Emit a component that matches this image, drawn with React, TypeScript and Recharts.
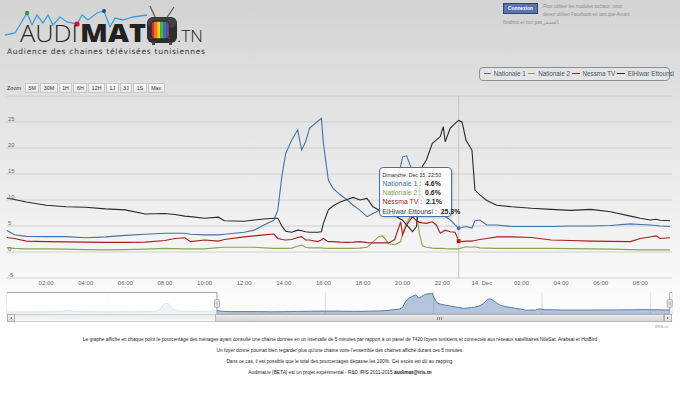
import React from 'react';
import {
  LineChart, Line, XAxis, YAxis, CartesianGrid, AreaChart, Area,
  ReferenceArea, ReferenceLine, ReferenceDot,
} from 'recharts';

const FONT = '"Liberation Sans", Arial, sans-serif';

// time in hours since 13 Dec 00:00
const hours = [0, 0.4, 1, 2, 3, 4, 5, 6, 7, 8, 8.5, 9, 9.3, 10, 10.7, 11, 12, 12.5, 13, 13.5,
  13.7, 13.9, 14.1, 14.4, 14.7, 14.9, 15.1, 15.3, 15.7, 15.9, 16.0, 16.25, 16.5, 16.85, 17.2, 17.5,
  17.85, 18.2, 18.5, 18.8, 19.0, 19.3, 19.6, 19.9, 20.0, 20.2, 20.5, 20.7, 20.85, 21.0, 21.2, 21.5,
  21.7, 21.9, 22.05, 22.15, 22.4, 22.65, 22.83, 23.0, 23.2, 23.5, 23.65, 23.9, 24.25, 24.75, 25.5,
  26.5, 27.5, 28.5, 29.5, 30.5, 31.5, 32.0, 32.5, 32.8, 33.0, 33.5];

const nationale1 = [4.2, 3.3, 3.0, 2.95, 2.95, 2.75, 2.9, 3.2, 3.4, 3.6,
  3.6, 3.6, 3.4, 3.3, 3.3, 3.4, 3.8, 4.2, 5.2, 6.1,
  8.1, 14.5, 19.0, 21.5, 23.5, 19.6, 21.2, 23.8, 25.1, 25.7,
  20.9, 13.8, 12.2, 11.0, 10.0, 9.0, 8.0, 6.8, 7.4, 8.0,
  8.4, 9.5, 12.0, 16.5, 18.3, 18.5, 15.5, 13.0, 11.5, 10.5,
  9.5, 8.5, 8.0, 7.5, 7.0, 6.8, 6.2, 5.2, 4.6, 4.7,
  4.9, 4.6, 6.0, 6.15, 5.2, 5.2, 4.9, 4.9, 4.9, 5.0,
  5.0, 5.1, 5.4, 5.3, 5.2, 5.1, 5.0, 4.9];

const nationale2 = [0.85, 0.7, 0.6, 0.6, 0.55, 0.45, 0.4, 0.45, 0.55, 0.7,
  0.65, 0.6, 0.6, 0.6, 0.85, 0.9, 0.9, 0.9, 0.8, 0.7,
  0.7, 0.7, 0.7, 0.75, 1.1, 1.35, 0.9, 0.8, 0.8, 0.8,
  0.75, 0.7, 0.7, 0.7, 0.7, 0.7, 0.75, 0.9, 1.9, 3.0,
  3.1, 1.6, 1.35, 2.0, 3.6, 5.6, 7.6, 7.8, 3.5, 1.2,
  0.9, 0.75, 0.7, 0.7, 0.7, 0.65, 0.6, 0.6, 0.6, 0.8,
  1.0, 0.9, 1.0, 0.8, 0.75, 0.7, 0.7, 0.7, 0.7, 0.65,
  0.6, 0.55, 0.45, 0.4, 0.4, 0.4, 0.4, 0.4];

const nessma = [2.8, 2.6, 2.1, 2.0, 1.95, 1.9, 1.85, 1.85, 1.9, 2.2,
  2.6, 2.75, 2.0, 2.3, 2.1, 2.4, 2.9, 3.1, 3.3, 3.45,
  2.6, 2.4, 2.3, 2.4, 2.8, 2.95, 2.3, 2.3, 2.0, 2.3,
  2.6, 2.0, 2.0, 1.9, 1.85, 1.9, 2.0, 1.8, 1.75, 1.75,
  1.75, 1.75, 2.4, 5.8, 3.3, 5.2, 6.8, 6.0, 5.7, 5.6,
  5.5, 5.8, 5.2, 3.6, 4.0, 4.2, 3.9, 3.8, 2.1, 2.0,
  2.1, 2.1, 2.2, 2.4, 2.6, 2.9, 2.9, 2.8, 2.3, 2.2,
  2.1, 2.05, 2.0, 2.6, 2.9, 3.1, 2.6, 2.75];

const elhiwar = [10.4, 10.1, 9.6, 9.0, 8.7, 8.6, 8.3, 8.1, 7.3, 7.4,
  7.2, 6.9, 6.8, 6.5, 6.7, 6.0, 5.9, 6.15, 6.35, 6.5,
  6.5, 5.0, 4.0, 3.8, 4.2, 4.1, 3.9, 3.8, 3.8, 3.9,
  5.5, 8.1, 8.9, 9.6, 10.1, 10.5, 10.0, 10.3, 8.7, 8.1,
  7.8, 7.4, 7.0, 6.3, 6.1, 5.2, 3.9, 4.9, 12.0, 16.5,
  17.7, 20.9, 21.5, 22.2, 24.1, 21.2, 23.8, 24.75, 25.3, 25.0,
  21.5, 19.6, 11.9, 11.0, 9.9, 9.0, 8.7, 8.4, 8.2, 8.0,
  8.2, 7.75, 6.9, 6.5, 6.15, 6.3, 6.1, 6.0];

// navigator: Nationale 1 on 12 Dec (hours before 13 Dec 00:00)
const navPrevHours = [-15.5, -14, -12.5, -11.4, -11.0, -10.6, -9.5, -8, -6.5, -5, -4.4, -4.2,
  -4.0, -3.8, -3.6, -3.35, -3.1, -2.8, -2, -1, -0.3];
const navPrevValues = [2.5, 2.6, 2.7, 3.2, 4.5, 3.2, 2.8, 2.7, 2.8, 3.0, 3.4, 6.0,
  10.5, 13.0, 12.6, 8.5, 4.5, 3.4, 3.1, 3.2, 3.8];

const seriesNames = ['Nationale 1', 'Nationale 2', 'Nessma TV', 'ElHiwar Ettounsi'];
const seriesKeys = ['n1', 'n2', 'ns', 'eh'];
const seriesColors = ['#4572A7', '#89A54E', '#AA1E1E', '#2a2a2a'];
const seriesValues = [nationale1, nationale2, nessma, elhiwar];

const xTicks = [2, 4, 6, 8, 10, 12, 14, 16, 18, 20, 22, 24, 26, 28, 30, 32];
const yTicks = [-5, 0, 5, 10, 15, 20, 25, 30];
const xDomain = [0, 33.6];
const yDomain = [-5, 30];
const navTicks = [-8, 0, 8, 16, 24, 32];
const navDomain = [-15.5, 33.6];
const navYDomain = [0, 26.5];
const navSelection = [0, 33.43];
const tooltipIndex = 58;
const tooltipDay = 'Dimanche, Dec 15';
const zoomButtons = ['5M', '30M', '1H', '6H', '12H', '1J', '3J', '1S', 'Max'];

const data = hours.map((h, i) => ({
  h, n1: nationale1[i], n2: nationale2[i], ns: nessma[i], eh: elhiwar[i],
}));
const navData = [
  ...navPrevHours.map((h, i) => ({ h, v: navPrevValues[i] })),
  ...hours.map((h, i) => ({ h, v: nationale1[i] })),
];

const pad = (n: number) => (n < 10 ? '0' + n : '' + n);
const fmtHour = (h: number) => {
  const d = h >= 24 ? h - 24 : h;
  const hh = Math.floor(d + 1e-6);
  const mm = Math.round((d - hh) * 60);
  return pad(hh) + ':' + pad(mm);
};
const xLabel = (h: number) => (h === 24 ? '14. Dec' : pad(((h % 24) + 24) % 24) + ':00');
const navLabel = (h: number) => {
  if (h === 0) return '13. Dec';
  if (h === 24) return '14. Dec';
  return pad(((h % 24) + 24) % 24) + ':00';
};

const YTick = (props: any) => {
  const { x, y, payload } = props;
  if (payload.value === yTicks[yTicks.length - 1]) return <g />;
  return (
    <text x={x} y={y - 1.5} fontSize={6} fill="#666" fontFamily={FONT} textAnchor="start">
      {payload.value}
    </text>
  );
};

const NavTick = (props: any) => {
  const { x, y, payload } = props;
  return (
    <text x={x + 2} y={y - 2.5} fontSize={5.5} fill="#777" fontFamily={FONT} textAnchor="start">
      {navLabel(payload.value)}
    </text>
  );
};

const SquareDot = (p: any) => (
  <rect x={p.cx - 2.2} y={p.cy - 2.2} width={4.4} height={4.4} fill={seriesColors[2]} stroke="#fff" strokeWidth={0.4} />
);
const CircleDot = (p: any) => (
  <circle cx={p.cx} cy={p.cy} r={2.3} fill={seriesColors[0]} stroke="#fff" strokeWidth={0.4} />
);
const Handle = (p: any) => (
  <g>
    <rect x={p.cx - 2.5} y={p.cy - 4} width={5} height={8} rx={1.5} fill="#ebe7e8" stroke="#999" strokeWidth={0.7} />
    <line x1={p.cx - 0.8} x2={p.cx - 0.8} y1={p.cy - 2} y2={p.cy + 2} stroke="#999" strokeWidth={0.5} />
    <line x1={p.cx + 0.8} x2={p.cx + 0.8} y1={p.cy - 2} y2={p.cy + 2} stroke="#999" strokeWidth={0.5} />
  </g>
);

function Logo() {
  const pts = '5,35 15,33 27,13 32,25 37,15 43,23 48,15 53,25 60,17 67,22 77,24 82,15 88,20 97,13 104,11 110,27 115,18 123,20 133,17 147,15';
  const stripes = ['#e3262e', '#f47a20', '#f6d21c', '#4cb548', '#2a7bc4', '#7d3f98'];
  return (
    <svg width={215} height={60} style={{ position: 'absolute', left: 0, top: 0 }}>
      <polyline points={pts} fill="none" stroke="#3aa0dc" strokeWidth={1.3} />
      <circle cx={27} cy={13} r={2.2} fill="#2a9a3a" />
      <circle cx={77} cy={24} r={2.6} fill="#d0102a" />
      <circle cx={104} cy={11} r={2} fill="#1a4a9a" />
      <text x={20} y={42} fontSize={24} fontFamily='"Open Sans", sans-serif' fontWeight={300} fill="#222" textLength={58} lengthAdjust="spacingAndGlyphs">AUDI</text>
      <text x={80} y={42} fontSize={24} fontFamily='"Open Sans", sans-serif' fontWeight={800} fill="#222" textLength={66} lengthAdjust="spacingAndGlyphs">MAT</text>
      <line x1={156} y1={19} x2={150} y2={6} stroke="#555" strokeWidth={1.2} />
      <line x1={166} y1={19} x2={174} y2={7} stroke="#555" strokeWidth={1.2} />
      <rect x={147} y={17} width={30} height={26} rx={6} fill="#2e2e2e" />
      <rect x={147.8} y={17.8} width={28.4} height={10} rx={5} fill="#555" opacity={0.5} />
      {stripes.map((c, i) => (
        <rect key={c} x={151 + i * 3.1} y={21} width={3.2} height={18} fill={c} />
      ))}
      <rect x={151} y={21} width={18.6} height={18} rx={4} fill="none" stroke="#2e2e2e" strokeWidth={1.5} />
      <rect x={152} y={42} width={3} height={3} fill="#444" />
      <rect x={169} y={42} width={3} height={3} fill="#444" />
      <text x={177} y={42} fontSize={17} fontFamily='"Open Sans", sans-serif' fontWeight={300} fill="#222" textLength={26} lengthAdjust="spacingAndGlyphs">.TN</text>
      <text x={7} y={53.5} fontSize={7.5} fontFamily='"DejaVu Sans", sans-serif' fill="#333" textLength={198} lengthAdjust="spacing">Audience des chaines télévisées tunisiennes</text>
    </svg>
  );
}

export default function App() {
  const tipH = hours[tooltipIndex];
  return (
    <div style={{
      position: 'absolute', left: 0, top: 0, width: 680, height: 400, overflow: 'hidden',
      fontFamily: FONT,
      background: 'linear-gradient(180deg, #d3d3d3 0px, #e3e3e3 110px, #efefef 210px, #fbfbfb 295px, #ffffff 330px)',
    }}>
      <Logo />

      {/* Facebook block */}
      <div style={{ position: 'absolute', left: 503, top: 3, width: 35, height: 11, background: '#5b74a8', border: '1px solid #29447e', boxSizing: 'border-box', color: '#fff', fontWeight: 'bold', fontSize: 4.8, lineHeight: '9px', textAlign: 'center' }}>Connexion</div>
      <div style={{ position: 'absolute', left: 543, top: 3, fontSize: 4.6, color: '#8a8a8a', lineHeight: '8px', whiteSpace: 'nowrap' }}>
        Pour utiliser les modules sociaux, vous<br />devez utiliser Facebook en tant que Amani
      </div>
      <div style={{ position: 'absolute', left: 503, top: 19.5, fontSize: 4.6, color: '#8a8a8a', whiteSpace: 'nowrap' }}>Ibrahimi et non pas <span>العصفر</span>.</div>

      {/* zoom buttons */}
      <div style={{ position: 'absolute', left: 7, top: 85, fontSize: 5.5, color: '#333' }}>Zoom</div>
      <div style={{ position: 'absolute', left: 25, top: 83, display: 'flex', gap: 1 }}>
        {zoomButtons.map((b) => (
          <div key={b} style={{ height: 10, padding: '0 2.5px', minWidth: 8, boxSizing: 'border-box', border: '1px solid #c8c8c8', background: 'linear-gradient(#fafafa, #e6e6e6)', fontSize: 5.3, lineHeight: '8px', color: '#333', textAlign: 'center' }}>{b}</div>
        ))}
      </div>

      {/* legend */}
      <div style={{ position: 'absolute', left: 479, top: 66.5, width: 191, height: 14, boxSizing: 'border-box', border: '1px solid #8f8f8f', borderRadius: 4, background: 'rgba(255,255,255,0.2)', display: 'flex', alignItems: 'center', paddingLeft: 3.5 }}>
        {seriesNames.map((n, i) => (
          <div key={n} style={{ display: 'flex', alignItems: 'center', marginRight: 2.2 }}>
            <div style={{ width: 7.5, height: 1.6, background: seriesColors[i], marginRight: 2.8 }} />
            <span style={{ fontSize: 6.3, color: '#3E576F', whiteSpace: 'nowrap' }}>{n}</span>
          </div>
        ))}
      </div>

      {/* main chart */}
      <div style={{ position: 'absolute', left: 0, top: 0 }}>
        <LineChart width={680} height={292} data={data} margin={{ top: 96, right: 8, left: 6.5, bottom: 0 }}>
          <CartesianGrid vertical={false} stroke="#c6c6c6" strokeWidth={0.8} />
          <XAxis dataKey="h" type="number" domain={xDomain} ticks={xTicks} interval={0} allowDataOverflow
            tickFormatter={xLabel} axisLine={false} tickLine={false} tickSize={0} tickMargin={3} height={14}
            tick={{ fontSize: 6, fill: '#666', fontFamily: FONT }} />
          <YAxis type="number" domain={yDomain} ticks={yTicks} interval={0} mirror axisLine={false} tickLine={false}
            tickSize={0} tickMargin={1.5} tick={YTick} allowDataOverflow />
          <ReferenceLine x={tipH} stroke="#c4c4c4" strokeWidth={0.9} />
          {seriesKeys.map((k, i) => (
            <Line key={k} type="linear" dataKey={k} name={seriesNames[i]} stroke={seriesColors[i]}
              strokeWidth={1.1} dot={false} activeDot={false} isAnimationActive={false} />
          ))}
          <ReferenceDot x={tipH} y={nationale1[tooltipIndex]} r={2.3} shape={CircleDot} />
          <ReferenceDot x={tipH} y={nessma[tooltipIndex]} r={2.3} shape={SquareDot} />
        </LineChart>
      </div>

      {/* tooltip */}
      <div style={{
        position: 'absolute', left: 379, top: 167, width: 73, height: 50, boxSizing: 'border-box',
        border: '1px solid #4572A7', borderRadius: 4, background: 'rgba(255,255,255,0.86)',
        boxShadow: '1px 1px 2px rgba(0,0,0,0.15)', padding: '3px 2px 0 2.5px', whiteSpace: 'nowrap',
      }}>
        <div style={{ fontSize: 5.2, color: '#333', lineHeight: '8px' }}>{tooltipDay}, {fmtHour(tipH)}</div>
        {seriesNames.map((n, i) => (
          <div key={n} style={{ fontSize: 6.9, lineHeight: '9.2px' }}>
            <span style={{ color: seriesColors[i] === '#2a2a2a' ? '#444' : seriesColors[i] }}>{n} :</span>
            <span style={{ color: '#222', fontWeight: 'bold' }}>{'\u00a0 '}{seriesValues[i][tooltipIndex].toFixed(1)}%</span>
          </div>
        ))}
      </div>

      {/* navigator */}
      <div style={{ position: 'absolute', left: 0, top: 292 }}>
        <AreaChart width={680} height={22} data={navData} margin={{ top: 0.5, right: 8, left: 7, bottom: 0 }}>
          <CartesianGrid horizontal={false} stroke="#d4d4d4" strokeWidth={0.8} />
          <XAxis dataKey="h" type="number" domain={navDomain} ticks={navTicks} interval={0} allowDataOverflow
            axisLine={false} tickLine={false} tickSize={0} tickMargin={0} height={0} tick={NavTick} />
          <YAxis hide type="number" domain={navYDomain} allowDataOverflow />
          <Area type="linear" dataKey="v" stroke="#4572A7" strokeWidth={0.9} fill="#4572A7" fillOpacity={0.4}
            dot={false} activeDot={false} isAnimationActive={false} />
          <ReferenceArea x1={navDomain[0]} x2={navSelection[0]} y1={navYDomain[0]} y2={navYDomain[1]} fill="#fff" fillOpacity={0.78} stroke="none" />
          <ReferenceArea x1={navSelection[1]} x2={navDomain[1]} y1={navYDomain[0]} y2={navYDomain[1]} fill="#fff" fillOpacity={0.78} stroke="none" />
          <ReferenceLine segment={[{ x: navDomain[0], y: navYDomain[1] }, { x: navSelection[0], y: navYDomain[1] }]} stroke="#a0a0a0" strokeWidth={0.9} ifOverflow="visible" />
          <ReferenceLine segment={[{ x: navSelection[0], y: navYDomain[1] }, { x: navSelection[0], y: navYDomain[0] }]} stroke="#a0a0a0" strokeWidth={0.9} ifOverflow="visible" />
          <ReferenceLine segment={[{ x: navSelection[0], y: navYDomain[0] }, { x: navSelection[1], y: navYDomain[0] }]} stroke="#a0a0a0" strokeWidth={0.9} ifOverflow="visible" />
          <ReferenceLine segment={[{ x: navSelection[1], y: navYDomain[0] }, { x: navSelection[1], y: navYDomain[1] }]} stroke="#a0a0a0" strokeWidth={0.9} ifOverflow="visible" />
          <ReferenceLine segment={[{ x: navSelection[1], y: navYDomain[1] }, { x: navDomain[1], y: navYDomain[1] }]} stroke="#a0a0a0" strokeWidth={0.9} ifOverflow="visible" />
          <ReferenceDot x={navSelection[0]} y={13} r={3} shape={Handle} ifOverflow="visible" />
          <ReferenceDot x={navSelection[1]} y={13} r={3} shape={Handle} ifOverflow="visible" />
        </AreaChart>
      </div>

      {/* scrollbar */}
      <div style={{ position: 'absolute', left: 7, top: 314, width: 665, height: 8, boxSizing: 'border-box', border: '1px solid #d0d0d0', background: 'linear-gradient(#ececec, #f7f7f7)' }} />
      <div style={{ position: 'absolute', left: 215, top: 314, width: 449, height: 8, boxSizing: 'border-box', border: '1px solid #b8b8b8', background: 'linear-gradient(#e9e9e9, #d6d6d6)' }}>
        <div style={{ position: 'absolute', left: 221, top: 2, width: 0.6, height: 3, background: '#888' }} />
        <div style={{ position: 'absolute', left: 223, top: 2, width: 0.6, height: 3, background: '#888' }} />
        <div style={{ position: 'absolute', left: 225, top: 2, width: 0.6, height: 3, background: '#888' }} />
      </div>
      <div style={{ position: 'absolute', left: 7, top: 314, width: 8, height: 8, boxSizing: 'border-box', border: '1px solid #b0b0b0', background: 'linear-gradient(#f4f4f4, #dcdcdc)' }}>
        <div style={{ position: 'absolute', left: 1.8, top: 1.7, width: 0, height: 0, borderTop: '1.4px solid transparent', borderBottom: '1.4px solid transparent', borderRight: '2px solid #555' }} />
      </div>
      <div style={{ position: 'absolute', left: 664, top: 314, width: 8, height: 8, boxSizing: 'border-box', border: '1px solid #b0b0b0', background: 'linear-gradient(#f4f4f4, #dcdcdc)' }}>
        <div style={{ position: 'absolute', left: 2.2, top: 1.7, width: 0, height: 0, borderTop: '1.4px solid transparent', borderBottom: '1.4px solid transparent', borderLeft: '2px solid #555' }} />
      </div>
      <div style={{ position: 'absolute', left: 655, top: 324, fontSize: 4.3, color: '#999' }}>IRIS.tn</div>

      {/* footer */}
      <div style={{ position: 'absolute', left: 0, top: 334, width: 680, textAlign: 'center', color: '#222', fontSize: 4.8, lineHeight: '11px', whiteSpace: 'nowrap' }}>
        <div>Le graphe affiche en chaque point le pourcentage des ménages ayant consulté une chaine donnée en un intervalle de 5 minutes par rapport à un panel de 7420 foyers tunisiens et connectés aux réseaux satellitaires NileSat, Arabsat et HotBird</div>
        <div>Un foyer donné pourrait bien regarder plus qu'une chaine voire l'ensemble des chaines affiché durant ces 5 minutes.</div>
        <div>Dans ce cas, il est possible que le total des pourcentages dépasse les 100%. Cet excès est dû au zapping.</div>
        <div>Audimat.tv [BETA] est un projet expérimental - R&amp;D IRIS 2011-2015 <b style={{ fontSize: 5 }}>audimat@iris.tn</b></div>
      </div>
    </div>
  );
}
